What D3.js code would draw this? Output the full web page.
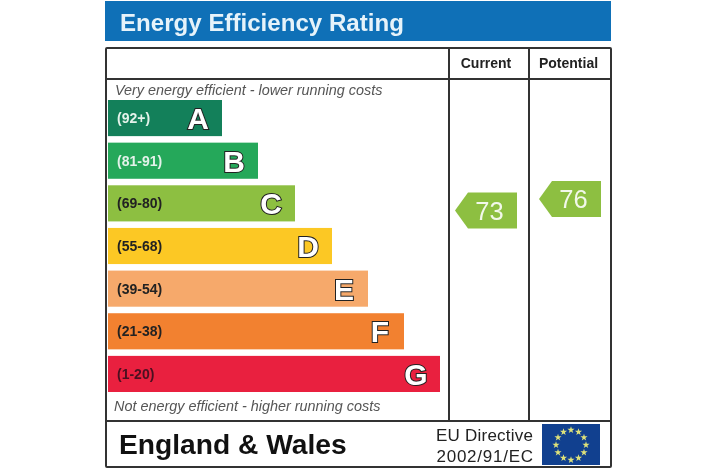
<!DOCTYPE html>
<html>
<head>
<meta charset="utf-8">
<script src="https://cdn.jsdelivr.net/npm/d3@7"></script>
<style>
  html, body { margin: 0; padding: 0; background: #fff; }
  svg { display: block; font-family: "Liberation Sans", Arial, sans-serif; filter: blur(0.4px); }
</style>
</head>
<body>
<div id="chart"></div>
<script>
const bands = ["A", "B", "C", "D", "E", "F", "G"];
const ranges = ["(92+)", "(81-91)", "(69-80)", "(55-68)", "(39-54)", "(21-38)", "(1-20)"];
const barLengths = [114, 150, 187, 224, 260, 296, 332];
const barColors = ["#13805a", "#25a85a", "#8dbf41", "#fcc824", "#f6a96b", "#f28130", "#e9203f"];
const rangeColors = ["#e4f2ea", "#e4f2ea", "#222", "#222", "#222", "#222", "#4a1020"];

const columns = ["Current", "Potential"];
const scores = [73, 76];

const width = 720;
const height = 475;

const svg = d3.select("#chart")
  .append("svg")
  .attr("width", width)
  .attr("height", height);

const x = d3.scaleLinear().domain([0, 332]).range([108, 440]);
const y = d3.scaleBand().domain(bands).range([100, 392]).paddingInner(0.153);
// the pointers sit on a score scale of their own
const scoreY = d3.scaleLinear().domain([100, 0]).range([107, 490]);
const colX = d3.scaleBand().domain(columns).range([449, 609]);

// header strip
svg.append("rect")
  .attr("x", 105).attr("y", 1)
  .attr("width", 506).attr("height", 40)
  .attr("fill", "#0f70b7");

svg.append("text")
  .attr("x", 120).attr("y", 31)
  .attr("font-size", 24.1)
  .attr("font-weight", "bold")
  .attr("fill", "#e6f3fa")
  .text("Energy Efficiency Rating");

// frame and grid lines
const lineColor = "#333";
svg.append("rect")
  .attr("x", 106).attr("y", 48)
  .attr("width", 505).attr("height", 419)
  .attr("rx", 1)
  .attr("fill", "#fff")
  .attr("stroke", lineColor)
  .attr("stroke-width", 2);

const hLine = yy => svg.append("line")
  .attr("x1", 106).attr("x2", 611)
  .attr("y1", yy).attr("y2", yy)
  .attr("stroke", lineColor).attr("stroke-width", 2);
hLine(79);
hLine(421);

svg.selectAll(".col-line")
  .data(columns)
  .enter()
  .append("line")
  .attr("class", "col-line")
  .attr("x1", d => colX(d)).attr("x2", d => colX(d))
  .attr("y1", 48).attr("y2", 421)
  .attr("stroke", lineColor).attr("stroke-width", 2);

svg.selectAll(".col-title")
  .data(columns)
  .enter()
  .append("text")
  .attr("class", "col-title")
  .attr("x", (d, i) => colX(d) + colX.bandwidth() / 2 - (i ? 0.5 : 3))
  .attr("y", 68)
  .attr("text-anchor", "middle")
  .attr("font-size", 14)
  .attr("font-weight", "bold")
  .attr("fill", "#222")
  .text(d => d);

// italic captions
svg.append("text")
  .attr("x", 115).attr("y", 95)
  .attr("font-size", 14.4)
  .attr("font-style", "italic")
  .attr("fill", "#555")
  .text("Very energy efficient - lower running costs");

svg.append("text")
  .attr("x", 114).attr("y", 411)
  .attr("font-size", 14.4)
  .attr("font-style", "italic")
  .attr("fill", "#555")
  .text("Not energy efficient - higher running costs");

// bars
const bar = svg.selectAll(".bar")
  .data(bands)
  .enter()
  .append("g")
  .attr("class", "bar");

bar.append("rect")
  .attr("x", x(0))
  .attr("y", d => y(d))
  .attr("width", (d, i) => x(barLengths[i]) - x(0))
  .attr("height", y.bandwidth())
  .attr("fill", (d, i) => barColors[i]);

bar.append("text")
  .attr("x", 117)
  .attr("y", d => y(d) + y.bandwidth() / 2 + 5)
  .attr("font-size", 14)
  .attr("font-weight", "bold")
  .attr("fill", (d, i) => rangeColors[i])
  .text((d, i) => ranges[i]);

bar.append("text")
  .attr("x", (d, i) => x(barLengths[i]) - 24)
  .attr("y", d => y(d) + y.bandwidth() / 2 + 11)
  .attr("text-anchor", "middle")
  .attr("font-size", 30)
  .attr("font-weight", "bold")
  .attr("fill", "#fff")
  .attr("stroke", "#222")
  .attr("stroke-width", 2)
  .attr("paint-order", "stroke")
  .text(d => d);

// score pointers, tips stand a little further in on the right column
const pointer = svg.selectAll(".pointer")
  .data(columns)
  .enter()
  .append("g")
  .attr("class", "pointer")
  .attr("transform", (d, i) => `translate(${colX(d) + (i ? 10 : 6)},${scoreY(scores[i])})`);

const pointerShape = d3.line()([[0, 0], [13, -18], [62, -18], [62, 18], [13, 18]]) + "Z";

pointer.append("path")
  .attr("d", pointerShape)
  .attr("fill", "#8dbf41");

pointer.append("text")
  .attr("x", 34.5)
  .attr("y", 9.5)
  .attr("text-anchor", "middle")
  .attr("font-size", 25.5)
  .attr("fill", "#f2f8ea")
  .text((d, i) => scores[i]);

// footer
svg.append("text")
  .attr("x", 119).attr("y", 453.5)
  .attr("font-size", 28.2)
  .attr("font-weight", "bold")
  .attr("fill", "#111")
  .text("England & Wales");

svg.append("text")
  .attr("x", 436).attr("y", 441)
  .attr("font-size", 17)
  .attr("textLength", 97)
  .attr("fill", "#222")
  .text("EU Directive");

svg.append("text")
  .attr("x", 436.5).attr("y", 462)
  .attr("font-size", 17)
  .attr("textLength", 96.5)
  .attr("fill", "#222")
  .text("2002/91/EC");

const flag = svg.append("g").attr("transform", "translate(571,445)");

flag.append("rect")
  .attr("x", -29).attr("y", -21)
  .attr("width", 58).attr("height", 41)
  .attr("fill", "#11408f");

flag.selectAll("path")
  .data(d3.range(12))
  .enter()
  .append("path")
  .attr("d", d3.symbol(d3.symbolStar, 16))
  .attr("fill", "#dfe27a")
  .attr("transform", d => {
    const a = d / 12 * 2 * Math.PI;
    return `translate(${15 * Math.sin(a)},${-15 * Math.cos(a)})`;
  });
</script>
</body>
</html>
